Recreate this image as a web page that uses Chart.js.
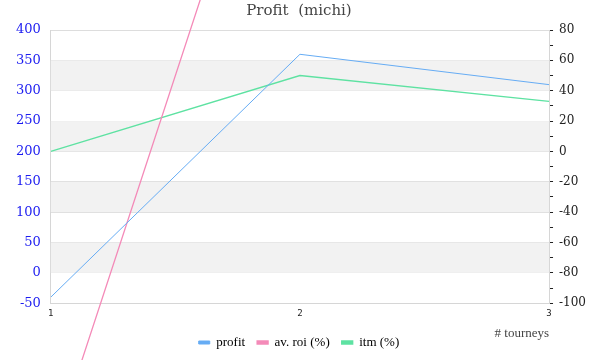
<!DOCTYPE html>
<html>
<head>
<meta charset="utf-8">
<script src="https://cdn.jsdelivr.net/npm/chart.js@4"></script>
<style>
  html, body { margin: 0; padding: 0; background: #fff; }
  #wrap { width: 600px; height: 360px; }
</style>
</head>
<body>
<div id="wrap"><canvas id="chart"></canvas></div>
<script>
// data
const tourneys = [1, 2, 3];
const profit = [-40, 360, 310];
const avRoi = [-200, 300, 200];
const itm = [0, 50, 33];

const leftTicks = [-50, 400, 50];
const rightTicks = [-100, 80, 10];
const xTitle = '# tourneys';

const toPoints = ys => tourneys.map((x, i) => ({ x: x, y: ys[i] }));

// alternating grey bands behind the lines
const bandsPlugin = {
    id: 'bands',
    beforeDatasetsDraw(chart) {
        const { ctx, chartArea, scales } = chart;
        const y = scales.y;
        ctx.save();
        ctx.fillStyle = '#f2f2f2';
        [0, 100, 200, 300].forEach(v => {
            const top = y.getPixelForValue(v + 50);
            const bot = y.getPixelForValue(v);
            ctx.fillRect(chartArea.left, top, chartArea.right - chartArea.left, bot - top);
        });
        ctx.restore();
    }
};

// x axis title sits right-aligned, level with the legend
const xTitlePlugin = {
    id: 'xTitle',
    afterDraw(chart) {
        const { ctx, chartArea } = chart;
        ctx.save();
        ctx.font = '13px "Liberation Serif"';
        ctx.fillStyle = '#444';
        ctx.textAlign = 'right';
        ctx.textBaseline = 'middle';
        ctx.fillText(xTitle, chartArea.right, chartArea.bottom + 30);
        ctx.restore();
    }
};

new Chart(document.getElementById('chart'), {
    type: 'line',
    data: {
        datasets: [
            {
                label: 'profit',
                data: toPoints(profit),
                yAxisID: 'y',
                borderColor: '#66acf4',
                backgroundColor: '#66acf4',
                borderWidth: 1,
                pointRadius: 0,
                tension: 0
            },
            {
                label: 'av. roi (%)',
                data: toPoints(avRoi),
                yAxisID: 'y1',
                borderColor: '#f48ab8',
                backgroundColor: '#f48ab8',
                borderWidth: 1.3,
                pointRadius: 0,
                clip: false,
                tension: 0
            },
            {
                label: 'itm (%)',
                data: toPoints(itm),
                yAxisID: 'y1',
                borderColor: '#5ee2a2',
                backgroundColor: '#5ee2a2',
                borderWidth: 1.3,
                pointRadius: 0,
                tension: 0
            }
        ]
    },
    options: {
        responsive: true,
        maintainAspectRatio: false,
        animation: false,
        layout: { padding: { left: 6, right: 8, top: 0, bottom: 1 } },
        plugins: {
            title: {
                display: true,
                text: 'Profit  (michi)',
                color: '#444',
                font: { family: 'DejaVu Serif', size: 15, weight: 'normal' },
                padding: { top: 2, bottom: 10 }
            },
            legend: {
                position: 'bottom',
                labels: {
                    color: '#000',
                    boxWidth: 11,
                    boxHeight: 3,
                    padding: 12,
                    font: { family: 'Liberation Serif', size: 13 }
                }
            },
            tooltip: { enabled: false }
        },
        scales: {
            x: {
                type: 'linear',
                min: tourneys[0],
                max: tourneys[tourneys.length - 1],
                ticks: {
                    stepSize: 1,
                    color: '#222',
                    font: { family: 'DejaVu Sans Mono', size: 9 },
                    padding: 5
                },
                grid: { display: false, drawTicks: false },
                border: { color: '#d6d6d6' }
            },
            y: {
                position: 'left',
                min: leftTicks[0],
                max: leftTicks[1],
                ticks: {
                    stepSize: leftTicks[2],
                    color: '#1c1cf0',
                    font: { family: 'DejaVu Serif', size: 13 },
                    padding: 10
                },
                grid: { color: '#dddddd', drawTicks: false },
                border: { color: '#d6d6d6' }
            },
            y1: {
                position: 'right',
                min: rightTicks[0],
                max: rightTicks[1],
                ticks: {
                    stepSize: rightTicks[2],
                    autoSkip: false,
                    color: '#222',
                    font: { family: 'DejaVu Serif', size: 12 },
                    padding: 6,
                    callback: v => (v % 20 === 0 ? v : '')
                },
                grid: { drawOnChartArea: false, color: '#222', tickLength: 4 },
                border: { color: '#d6d6d6' }
            }
        }
    },
    plugins: [bandsPlugin, xTitlePlugin]
});
</script>
</body>
</html>
